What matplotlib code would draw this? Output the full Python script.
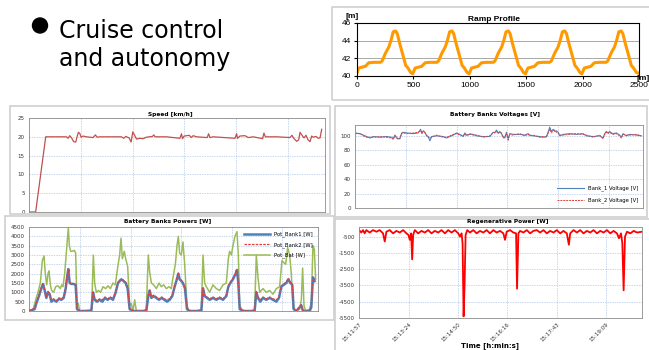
import matplotlib
matplotlib.use("Agg")
import matplotlib.pyplot as plt
from matplotlib.patches import Rectangle, Ellipse

plt.rcParams['axes.unicode_minus'] = False

W, H = 649, 350

# ---------------- data ----------------
ramp_x = [0, 15, 45, 74, 104, 149, 208, 223, 253, 283, 303, 321, 342, 357, 378, 402, 432, 452, 476, 494,
          515, 545, 574, 604, 649, 708, 723, 753, 783, 803, 821, 842, 857, 878, 902, 932, 952, 976, 994,
          1015, 1045, 1074, 1104, 1149, 1208, 1223, 1253, 1283, 1303, 1321, 1342, 1357, 1378, 1402, 1432, 1452, 1476, 1494,
          1515, 1545, 1574, 1604, 1649, 1708, 1723, 1753, 1783, 1803, 1821, 1842, 1857, 1878, 1902, 1932, 1952, 1976, 1994,
          2015, 2045, 2074, 2104, 2149, 2208, 2223, 2253, 2283, 2303, 2321, 2342, 2357, 2378, 2402, 2432, 2452, 2476, 2500]
ramp_h = [40.3, 40.9, 41.0, 41.1, 41.5, 41.55, 41.55, 41.7, 42.6, 43.3, 44.1, 45.0, 45.1, 44.8, 43.7, 42.6, 41.2, 40.9, 40.4, 40.25,
          40.9, 41.0, 41.1, 41.5, 41.55, 41.55, 41.7, 42.6, 43.3, 44.1, 45.0, 45.1, 44.8, 43.7, 42.6, 41.2, 40.9, 40.4, 40.25,
          40.9, 41.0, 41.1, 41.5, 41.55, 41.55, 41.7, 42.6, 43.3, 44.1, 45.0, 45.1, 44.8, 43.7, 42.6, 41.2, 40.9, 40.4, 40.25,
          40.9, 41.0, 41.1, 41.5, 41.55, 41.55, 41.7, 42.6, 43.3, 44.1, 45.0, 45.1, 44.8, 43.7, 42.6, 41.2, 40.9, 40.4, 40.25,
          40.9, 41.0, 41.1, 41.5, 41.55, 41.55, 41.7, 42.6, 43.3, 44.1, 45.0, 45.1, 44.8, 43.7, 42.6, 41.2, 40.9, 40.4, 40.3]

time_labels = ["15:11:57", "15:13:24", "15:14:50", "15:16:16", "15:17:43", "15:19:09"]

speed_t = [0, 11.1, 27.9, 62.4, 65.2, 68.0, 70.7, 74.6, 78.0, 80.2, 82.4, 84.7, 86.9, 90.2, 95.8, 106.9, 110.8,
           113.6, 118.1, 154.3, 158.2, 161.5, 167.1, 170.4, 173.2, 176.0, 179.4, 184.9, 190.5, 196.1, 206.1, 208.3,
           210.5, 229.5, 251.8, 254.5, 256.2, 259.0, 267.4, 270.7, 274.0, 279.6, 297.4, 299.7, 301.9, 307.5, 343.7,
           346.5, 348.1, 352.0, 360.4, 365.9, 374.3, 389.9, 392.1, 394.4, 413.3, 435.6, 438.9, 442.3, 446.7, 450.1,
           452.3, 455.1, 459.0, 462.3, 465.7, 469.0, 471.8, 474.6, 479.0, 482.9, 485.7, 488.5]
speed_v = [0, 0, 20, 20, 19.6, 20.3, 19.8, 18.7, 18.6, 20, 21.2, 20.9, 19.9, 20.2, 20, 19.8, 20.5,
           19.9, 20, 20, 19.6, 20.1, 19.7, 18.6, 21.3, 20.5, 19.4, 19.6, 19.5, 19.9, 20.1, 20.5,
           20, 20, 19.6, 20.8, 19.5, 20.2, 20.4, 19.8, 20.3, 20, 19.8, 20.8, 19.8, 20, 19.6,
           20.8, 19.6, 20.2, 20.3, 19.8, 20, 19.5, 21, 20, 20, 19.8, 20.4, 19.5, 18.8, 19.2,
           21.2, 20.5, 19.7, 20.4, 19.2, 18.7, 20.2, 19.9, 20.1, 19.6, 19.7, 22]

volt_t = [0, 8.5, 14.2, 19.8, 25.5, 31.2, 42.5, 53.9, 62.4, 65.2, 68.0, 70.9, 73.7, 76.5, 79.4, 82.2, 87.9, 99.2,
          107.7, 111.7, 114.0, 116.2, 119.1, 121.9, 124.7, 127.6, 130.4, 138.9, 150.3, 155.9, 161.6, 167.3, 172.9,
          178.6, 184.3, 187.1, 189.9, 195.6, 201.3, 207.0, 218.3, 229.6, 235.3, 238.1, 241.0, 243.8, 246.6, 249.5,
          252.3, 255.2, 258.0, 260.8, 263.7, 269.3, 280.7, 289.2, 294.8, 297.7, 303.3, 314.7, 320.4, 326.0, 328.9,
          331.7, 334.5, 337.4, 340.2, 343.0, 345.9, 348.7, 354.4, 365.7, 377.1, 388.4, 394.1, 405.4, 416.7, 422.4,
          425.3, 428.1, 430.9, 433.8, 436.6, 439.4, 445.1, 450.8, 453.6, 456.4, 462.1, 467.8, 479.1, 487.6]
volt_bank1 = [104, 103, 101, 99, 97, 99, 98, 99, 98, 96, 101, 97, 96, 96, 103, 105, 104, 103, 104, 109,
              103, 107, 105, 100, 99, 93, 99, 100, 99, 97, 99, 101, 104, 102, 99, 104, 101, 102, 102, 100,
              99, 99, 105, 104, 108, 104, 106, 103, 99, 97, 105, 96, 103, 102, 102, 101, 103, 101, 100, 99,
              98, 99, 105, 112, 106, 109, 106, 107, 105, 100, 102, 103, 102, 103, 100, 99, 100, 97, 103, 106,
              104, 106, 104, 103, 104, 101, 98, 103, 100, 102, 101, 100]
volt_bank2 = [103, 103, 100, 98, 98, 98, 99, 98, 97, 95, 100, 98, 95, 97, 104, 104, 103, 104, 105, 107,
              104, 106, 104, 101, 98, 97, 98, 101, 98, 98, 100, 102, 103, 101, 100, 103, 100, 103, 101, 101,
              98, 100, 104, 105, 106, 103, 105, 104, 97, 99, 103, 94, 102, 101, 103, 100, 102, 100, 101, 98,
              99, 98, 104, 109, 104, 107, 108, 105, 104, 101, 101, 102, 103, 102, 101, 98, 101, 96, 102, 105,
              103, 105, 103, 102, 103, 100, 97, 102, 101, 101, 102, 100]

bat_t = [0, 6.8, 11.4, 15.3, 19.3, 22.7, 25.6, 27.8, 30.1, 32.4, 34.1, 36.4, 38.6, 42.0, 45.4, 49.4, 53.4, 55.7,
         57.9, 60.8, 63.0, 65.3, 67.0, 68.7, 71.0, 73.8, 77.2, 79.5, 81.8, 84.1, 86.3, 92.0, 103.4,
         106.8, 109.6, 111.9, 114.7, 118.1, 122.1, 126.1, 130.6, 134.6, 138.6, 143.1, 147.1, 150.5, 154.5, 156.8,
         159.0, 162.4, 164.7, 168.1, 171.5, 174.4, 177.2, 180.1, 182.9, 194.3,
         199.9, 203.3, 205.6, 208.5, 212.4, 217.0, 221.5, 225.5, 229.5, 234.0, 238.6, 242.5, 245.4, 249.4, 252.2,
         254.5, 256.7, 259.6, 262.4, 265.3, 269.2, 272.6, 285.1,
         293.7, 296.5, 299.3, 302.2, 307.9, 313.5, 319.2, 324.9, 330.6, 336.3, 339.7, 341.9, 344.8, 347.6, 351.0,
         354.4, 356.7, 359.0, 362.4, 367.5, 378.9,
         384.5, 387.4, 390.2, 393.1, 398.7, 404.4, 410.1, 415.8, 421.5, 427.1, 431.1, 434.0, 437.4, 440.8, 444.2,
         447.0, 449.9, 455.5, 461.2, 464.1, 466.3, 468.6, 471.4, 478.3, 481.1, 483.9, 486.2, 488.5]
pot_bat = [0, 50, 600, 1000, 1500, 2700, 2950, 2000, 1400, 2000, 2150, 1400, 1100, 1000, 1300, 1350, 1200, 1400,
           1300, 2000, 2900, 3800, 4450, 3500, 3200, 3200, 3250, 3100, 300, 400, 0, 0, 50,
           100, 3000, 1500, 1000, 1100, 1000, 1300, 1200, 1350, 1200, 1500, 1400, 2200, 3000, 3900,
           2800, 3200, 2800, 2400, 300, 400, 0, 600, 0, 0,
           100, 3000, 2100, 1500, 1400, 1200, 1500, 1300, 1400, 1200, 1300, 1200, 1800, 2500, 3500,
           4000, 3100, 3000, 3700, 2500, 300, 0, 0,
           100, 3000, 1500, 1300, 1000, 1400, 1200, 1100, 1400, 1500, 2800, 3200, 3000, 3500, 4000,
           4250, 3000, 300, 100, 0, 0,
           100, 3000, 1800, 1000, 1200, 1000, 1100, 900, 1200, 1300, 2700, 2600, 2500, 3400, 3000,
           2000, 200, 0, 100, 600, 2300, 300, 0, 100, 500, 3500, 3300, 1700]

pot_t = [0, 9.7, 12.5, 17.0, 21.0, 23.9, 26.7, 29.5, 32.4, 35.2, 38.1, 42.0, 46.6, 51.1, 55.1, 59.1, 62.5, 65.3,
         67.0, 69.3, 72.1, 76.1, 79.5, 81.8, 86.3, 106.2,
         109.1, 111.9, 115.9, 120.4, 125.0, 129.5, 134.0, 138.6, 143.1, 147.7, 151.7, 154.5, 157.3, 161.3, 164.7,
         168.1, 171.5, 177.2, 199.9,
         203.3, 205.6, 208.5, 212.4, 217.0, 221.5, 226.1, 230.6, 235.2, 239.7, 244.2, 248.2, 251.1, 254.5, 256.7,
         259.6, 262.4, 265.8, 269.2, 273.8, 293.7,
         296.5, 299.3, 303.3, 307.9, 313.5, 319.2, 324.9, 330.6, 336.3, 339.7, 343.1, 347.6, 352.2, 354.4, 356.7,
         359.0, 364.7, 384.5,
         387.4, 390.2, 394.2, 398.7, 404.4, 410.1, 415.8, 421.5, 426.0, 430.0, 434.0, 438.5, 441.9, 445.3, 448.7,
         451.0, 455.5, 464.1, 466.9, 478.3, 481.1, 483.9, 486.8]
pot_bank1 = [0, 100, 400, 800, 1200, 1450, 1100, 700, 1000, 900, 500, 600, 500, 650, 600, 700, 1200, 1900,
             2250, 1500, 1450, 1450, 1400, 100, 0, 0,
             1000, 600, 500, 600, 500, 700, 600, 700, 600, 1000, 1500, 1600, 1700, 1600, 1500, 1200, 100, 0, 0,
             800, 1100, 700, 800, 700, 600, 700, 600, 500, 600, 800, 1300, 1600, 2000, 1700, 1600, 1500, 1200,
             100, 0, 0,
             1200, 800, 700, 600, 700, 600, 700, 600, 800, 1300, 1500, 1700, 2000, 2200, 1500, 100, 0, 0,
             1000, 700, 500, 700, 600, 700, 600, 500, 700, 1300, 1400, 1500, 1700, 1500, 1400, 100, 0, 300,
             0, 0, 200, 1800, 1600]
pot_bank2 = [0, 150, 450, 850, 1250, 1500, 1150, 750, 1050, 950, 600, 650, 550, 700, 650, 750, 1250, 2000,
             2200, 1550, 1500, 1450, 1450, 150, 0, 0,
             1050, 650, 550, 650, 600, 750, 650, 750, 650, 1050, 1550, 1650, 1700, 1650, 1550, 1250, 150, 0, 0,
             850, 1150, 750, 850, 750, 650, 750, 650, 600, 650, 850, 1350, 1650, 2050, 1750, 1650, 1550, 1250,
             150, 0, 0,
             1250, 850, 750, 650, 750, 650, 750, 650, 850, 1350, 1550, 1750, 2050, 2200, 1550, 150, 0, 0,
             1050, 750, 600, 750, 650, 750, 650, 600, 750, 1350, 1450, 1550, 1750, 1550, 1450, 150, 0, 350,
             0, 0, 250, 1800, 1650]

regen_t = [0, 4.1, 7.0, 9.9, 12.8, 18.7, 24.5, 30.4, 36.2, 42.0, 45.0, 47.9, 53.7, 59.6, 65.4, 71.2, 77.1, 82.9,
           86.4, 88.8, 91.1, 92.9, 94.6, 97.5, 103.4, 109.2, 115.0, 120.9, 126.7, 132.6, 138.4, 144.2, 150.1,
           155.9, 161.8, 167.6, 173.4, 176.4, 179.3, 181.0, 182.8, 184.5, 186.3, 189.2, 193.9, 199.7, 205.6,
           211.4, 217.2, 223.1, 228.9, 234.8, 240.6, 246.4, 252.3, 255.2, 258.1, 264.0, 269.8, 274.5, 276.2,
           278.6, 281.5, 287.3, 293.2, 299.0, 304.8, 310.7, 316.5, 322.4, 328.2, 334.0, 339.9, 345.7, 351.6,
           357.4, 363.2, 366.8, 369.1, 374.9, 380.8, 386.6, 392.4, 398.3, 404.1, 410.0, 415.8, 421.6, 427.5,
           433.3, 439.2, 445.0, 450.8, 454.4, 457.9, 460.2, 462.5, 464.9, 468.4, 474.2, 480.0, 485.9, 494.6]
regen_w = [-100, -250, -100, -300, -100, -250, -100, -200, -100, -300, -800, -200, -100, -300, -150, -250,
           -100, -300, -400, -700, -300, -1900, -400, -100, -300, -150, -250, -100, -300, -150, -250, -100,
           -300, -100, -250, -100, -300, -500, -300, -900, -5400, -3500, -400, -100, -250, -100, -300, -150,
           -250, -100, -300, -100, -250, -150, -300, -700, -200, -100, -250, -300, -3700, -300, -150, -250,
           -100, -300, -150, -100, -250, -100, -300, -150, -250, -100, -300, -150, -300, -1000, -300, -100,
           -250, -100, -300, -150, -250, -100, -300, -150, -250, -100, -300, -150, -300, -600, -300, -900,
           -3800, -500, -200, -300, -150, -250, -200]


def to_sec(s):
    h, m, sec = s.split(":")
    return int(h) * 3600 + int(m) * 60 + int(sec)


tick_sec = [to_sec(s) - to_sec(time_labels[0]) for s in time_labels]


def box(l, t, r, b):
    return [l / W, 1 - b / H, (r - l) / W, (b - t) / H]


def frame(l, t, r, b):
    fig.add_artist(Rectangle((l / W, 1 - b / H), (r - l) / W, (b - t) / H, transform=fig.transFigure,
                             fill=False, ec='#D0D0D0', lw=1.2))


def ftext(x, y, s, **kw):
    fig.text(x / W, 1 - y / H, s, **kw)


def excel_axes(rect, ylim, yticks, xmax):
    ax = fig.add_axes(box(*rect))
    ax.set_xlim(0, xmax)
    ax.set_ylim(*ylim)
    ax.set_yticks(yticks)
    ax.set_xticks(tick_sec)
    ax.set_xticklabels([])
    ax.tick_params(length=0, labelsize=4, pad=3, colors='#333333')
    ax.grid(True, color='#AFC6E6', ls=(0, (2, 1.5)), lw=0.5)
    ax.set_axisbelow(True)
    for s in ax.spines.values():
        s.set_color('#8C8C8C')
        s.set_linewidth(0.6)
    return ax


fig = plt.figure(figsize=(W / 100, H / 100), dpi=100)

# bullet heading
fig.add_artist(Ellipse((40 / W, 1 - 25.5 / H), 15 / W, 15 / H, transform=fig.transFigure, color='black'))
ftext(59, 38, "Cruise control", fontsize=17, va='baseline')
ftext(59, 66, "and autonomy", fontsize=17, va='baseline')

# ramp profile (older excel look, arial)
arial = 'Liberation Sans'
frame(332, 7, 660, 100)
ax = fig.add_axes(box(357, 23, 639, 76))
ax.plot(ramp_x, ramp_h, color='#FF9900', lw=2.2, solid_joinstyle='round', solid_capstyle='round')
ax.set_xlim(0, 2500)
ax.set_ylim(40, 46)
ax.set_xticks([0, 500, 1000, 1500, 2000, 2500])
ax.set_yticks([40, 42, 44, 46])
ax.yaxis.grid(True, color='#9A9A9A', lw=0.6)
ax.tick_params(length=2, labelsize=6, pad=2)
for lab in ax.get_xticklabels() + ax.get_yticklabels():
    lab.set_fontfamily(arial)
for s in ax.spines.values():
    s.set_linewidth(0.8)
ftext(494, 19.5, "Ramp Profile", fontsize=6, fontweight='bold', ha='center', va='center', family=arial)
ftext(352, 16, "[m]", fontsize=6, fontweight='bold', ha='center', va='center', family=arial)
ftext(643, 78, "[m]", fontsize=6, fontweight='bold', ha='center', va='center', family=arial)

# speed
frame(10, 106, 330, 214)
ax = excel_axes((29, 118, 325, 212), (0, 25), [0, 5, 10, 15, 20, 25], 494)
ax.plot(speed_t, speed_v, color='#C0504D', lw=0.9)
ftext(170, 114.5, "Speed [km/h]", fontsize=4.2, fontweight='bold', ha='center', va='center')

# battery voltages
frame(335, 106, 647, 217)
ax = excel_axes((355, 125, 643, 208), (0, 115), [0, 20, 40, 60, 80, 100], 490.5)
ax.plot(volt_t, volt_bank1, color='#4F81BD', lw=0.8, label='Bank_1 Voltage [V]')
ax.plot(volt_t, volt_bank2, color='#E0403A', lw=0.7, ls=(0, (2, 1)), label='Bank_2 Voltage [V]')
ax.legend(loc='lower right', frameon=False, fontsize=3.8, handlelength=5, labelspacing=1.2,
          bbox_to_anchor=(1.0, 0.0))
ftext(495, 115, "Battery Banks Voltages [V]", fontsize=4.2, fontweight='bold', ha='center', va='center')

# battery powers
frame(5, 216, 334, 320)
ax = excel_axes((29, 227, 318, 311), (0, 4500), list(range(0, 4501, 500)), 492.5)
ax.plot(bat_t, pot_bat, color='#9BBB59', lw=1.1, label='Pot_Bat [W]', zorder=2)
ax.plot(pot_t, pot_bank1, color='#4F81BD', lw=1.8, label='Pot_Bank1 [W]', zorder=3)
ax.plot(pot_t, pot_bank2, color='#E0403A', lw=0.9, ls=(0, (2, 1)), label='Pot_Bank2 [W]', zorder=4)
hl, lb = ax.get_legend_handles_labels()
ax.legend([hl[1], hl[2], hl[0]], [lb[1], lb[2], lb[0]], loc='upper right', frameon=False, fontsize=3.8,
          handlelength=5, labelspacing=0.9, bbox_to_anchor=(1.0, 1.0))
ftext(168, 222, "Battery Banks Powers [W]", fontsize=4.2, fontweight='bold', ha='center', va='center')

# regenerative power
frame(335, 219, 660, 360)
ax = excel_axes((359, 227, 642, 318), (-5500, 90), [-5500, -4500, -3500, -2500, -1500, -500], 494.6)
ax.plot(regen_t, regen_w, color='#FF0000', lw=1.3)
ax.set_xticklabels(time_labels, rotation=45, ha='right', rotation_mode='anchor')
ftext(508, 222, "Regenerative Power [W]", fontsize=4.2, fontweight='bold', ha='center', va='center')
ftext(490, 346, "Time [h:min:s]", fontsize=5, fontweight='bold', ha='center', va='center')

fig.savefig("out.png", dpi=100)
